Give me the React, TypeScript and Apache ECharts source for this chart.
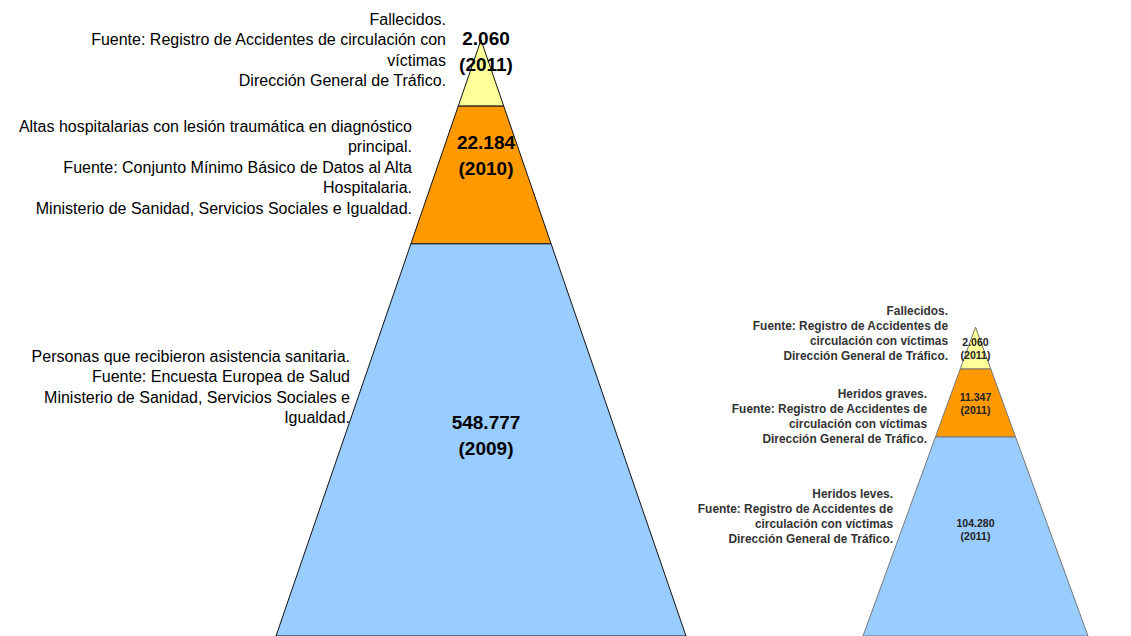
import React, { useEffect, useRef } from 'react';
import * as echarts from 'echarts';

// ---- Data ----
const layerColors = ['#FFFF99', '#FF9900', '#99CCFF'];

// Large pyramid
const bigValues = [2060, 22184, 548777];
const bigYears = [2011, 2010, 2009];
const bigBreaks = [0, 0.111, 0.342, 1]; // layer boundaries, share of visible pyramid height
const bigNotes = [
  'Fallecidos.\nFuente: Registro de Accidentes de circulación con\nvíctimas\nDirección General de Tráfico.',
  'Altas hospitalarias con lesión traumática en diagnóstico\nprincipal.\nFuente: Conjunto Mínimo Básico de Datos al Alta\nHospitalaria.\nMinisterio de Sanidad, Servicios Sociales e Igualdad.',
  'Personas que recibieron asistencia sanitaria.\nFuente: Encuesta Europea de Salud\nMinisterio de Sanidad, Servicios Sociales e\nIgualdad.',
];

// Small pyramid
const smallValues = [2060, 11347, 104280];
const smallYears = [2011, 2011, 2011];
const smallBreaks = [0, 0.136, 0.356, 1];
const smallNotes = [
  'Fallecidos.\nFuente: Registro de Accidentes de\ncirculación con víctimas\nDirección General de Tráfico.',
  'Heridos graves.\nFuente: Registro de Accidentes de\ncirculación con víctimas\nDirección General de Tráfico.',
  'Heridos leves.\nFuente: Registro de Accidentes de\ncirculación con víctimas\nDirección General de Tráfico.',
];

// ---- Layout ----
const FONT = '"Liberation Sans", Arial, Helvetica, sans-serif';
const bigLabelDepth = [0.02, 0.193, 0.664];
const smallLabelDepth = [0.07, 0.248, 0.655];
const bigNotePos = [
  [446, 9],
  [412, 116],
  [350, 346],
];
const smallNotePos = [
  [948, 303],
  [927, 386],
  [893, 486],
];

const fmt = (n: number) => String(n).replace(/\B(?=(\d{3})+(?!\d))/g, '.');

const buildData = (values: number[], years: number[], breaks: number[]) =>
  values.map((v, i) => [i, breaks[i], breaks[i + 1], v, years[i]]);

const makeRender =
  (labelDepth: number[], stroke: string, fontSize: number, lineHeight: number, dx: number, textFill: string) =>
  (params: any, api: any) => {
    const i = api.value(0);
    const d0 = api.value(1);
    const d1 = api.value(2);
    const pts = [
      api.coord([-d0, d0]),
      api.coord([d0, d0]),
      api.coord([d1, d1]),
      api.coord([-d1, d1]),
    ];
    const lab = api.coord([0, labelDepth[i]]);
    return {
      type: 'group',
      children: [
        {
          type: 'polygon',
          shape: { points: pts },
          style: { fill: layerColors[i], stroke, lineWidth: 1 },
        },
        {
          type: 'text',
          x: lab[0] + dx,
          y: lab[1],
          z2: 10,
          style: {
            text: fmt(api.value(3)) + '\n(' + api.value(4) + ')',
            align: 'center',
            verticalAlign: 'middle',
            fontFamily: FONT,
            fontWeight: 'bold',
            fontSize,
            lineHeight,
            fill: textFill,
          },
        },
      ],
    };
  };

export default function App() {
  const ref = useRef<HTMLDivElement>(null);

  useEffect(() => {
    if (!ref.current) return;
    const chart = echarts.init(ref.current, undefined, { renderer: 'svg' });

    const noteTexts: any[] = [];
    bigNotes.forEach((t, i) =>
      noteTexts.push({
        type: 'text',
        x: bigNotePos[i][0],
        y: bigNotePos[i][1],
        style: {
          text: t,
          align: 'right',
          verticalAlign: 'top',
          fontFamily: FONT,
          fontSize: 16,
          lineHeight: 20.5,
          fill: '#000',
        },
      })
    );
    smallNotes.forEach((t, i) =>
      noteTexts.push({
        type: 'text',
        x: smallNotePos[i][0],
        y: smallNotePos[i][1],
        style: {
          text: t,
          align: 'right',
          verticalAlign: 'top',
          fontFamily: FONT,
          fontWeight: 'bold',
          fontSize: 11.9,
          lineHeight: 15.2,
          fill: '#333',
        },
      })
    );

    chart.setOption({
      animation: false,
      backgroundColor: '#ffffff',
      grid: [
        { left: 276, top: 40, width: 410, height: 596 },
        { left: 863, top: 327, width: 225, height: 309 },
      ],
      xAxis: [
        { type: 'value', gridIndex: 0, min: -1, max: 1, show: false },
        { type: 'value', gridIndex: 1, min: -1, max: 1, show: false },
      ],
      yAxis: [
        { type: 'value', gridIndex: 0, min: 0, max: 1, inverse: true, show: false },
        { type: 'value', gridIndex: 1, min: 0, max: 1, inverse: true, show: false },
      ],
      graphic: noteTexts,
      series: [
        {
          type: 'custom',
          xAxisIndex: 0,
          yAxisIndex: 0,
          clip: false,
          renderItem: makeRender(bigLabelDepth, '#111', 19, 26, 5, '#000'),
          data: buildData(bigValues, bigYears, bigBreaks),
        },
        {
          type: 'custom',
          xAxisIndex: 1,
          yAxisIndex: 1,
          clip: false,
          renderItem: makeRender(smallLabelDepth, '#777', 10.5, 13.5, 0, '#222'),
          data: buildData(smallValues, smallYears, smallBreaks),
        },
      ],
    });

    return () => chart.dispose();
  }, []);

  return (
    <div
      ref={ref}
      style={{ position: 'absolute', left: 0, top: 0, width: 1131, height: 636 }}
    />
  );
}
